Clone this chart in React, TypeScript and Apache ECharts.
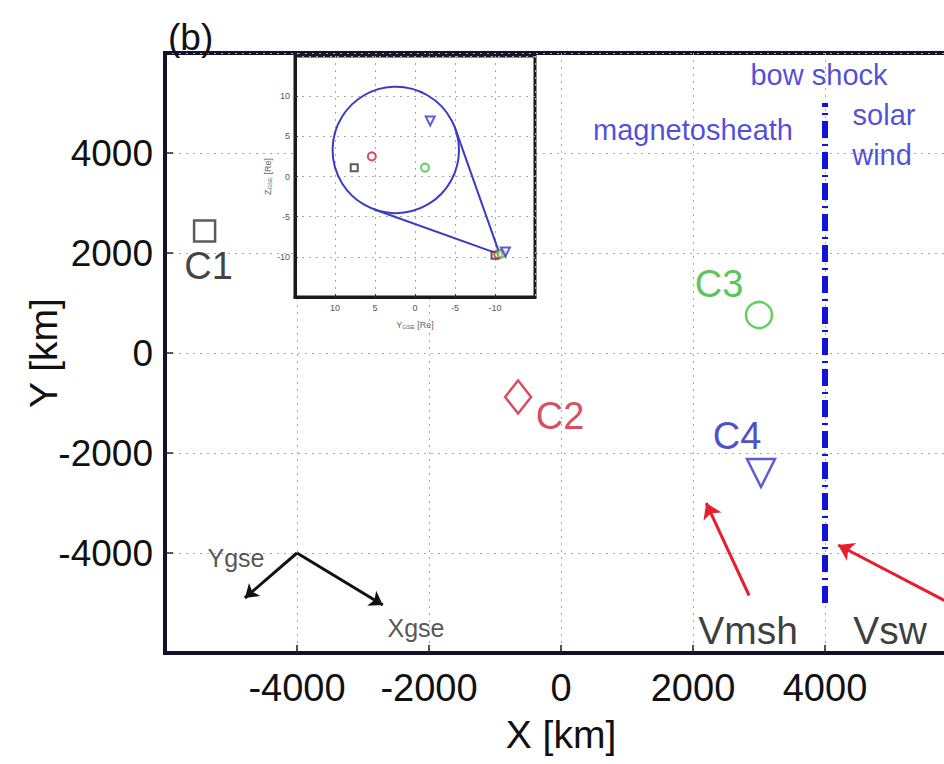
import React, { useEffect, useRef } from 'react';
import * as echarts from 'echarts';

// Spacecraft positions in the X-Y plane [km]
const CRAFT = ['C1', 'C2', 'C3', 'C4'];
const CRAFT_X = [-5400, -650, 3000, 3030];
const CRAFT_Y = [2440, -880, 760, -2400];

// Bow shock location
const BOW_SHOCK_X = 4000;
const BOW_SHOCK_Y = [-5000, 5000];

// Flow velocity arrows (tail -> head)
const FLOWS = ['Vmsh', 'Vsw'];
const FLOW_TAIL_X = [2850, 6000];
const FLOW_TAIL_Y = [-4850, -5080];
const FLOW_HEAD_X = [2200, 4200];
const FLOW_HEAD_Y = [-3000, -3840];

// GSE direction arrows drawn from a common origin
const GSE_AXES = ['Ygse', 'Xgse'];
const GSE_ORIGIN = [-4000, -4000];
const GSE_TIP_X = [-4790, -2700];
const GSE_TIP_Y = [-4900, -5040];

// Text annotations placed in data coordinates
const NOTES = ['bow shock', 'magnetosheath', 'solar', 'wind', 'Vmsh', 'Vsw', 'Ygse', 'Xgse'];
const NOTE_X = [3909, 2000, 4894, 4864, 2833, 4985, -4924, -2197];
const NOTE_Y = [5560, 4460, 4760, 3960, -5540, -5540, -4100, -5500];

// Inset: spacecraft in the GSE Y-Z plane [Re]
const INSET_Y = [7.6, 5.4, -1.25, -1.9];
const INSET_Z = [1.1, 2.5, 1.1, 6.9];
const INSET_FAR_Y = [-10.0, -10.4, -10.8, -11.3];
const INSET_FAR_Z = [-9.8, -9.7, -9.6, -9.4];
// Teardrop outline: circle (center, radius) joined to an apex by tangents
const LOOP_CENTER = [2.4, 3.3];
const LOOP_RADIUS = 7.9;
const LOOP_APEX = [-10.6, -9.7];

const FONT = '"Liberation Sans", Arial, sans-serif';
const CRAFT_COLOR = ['#333333', '#cc2238', '#3cc43c', '#3434c8'];
const CRAFT_LABEL_COLOR = ['#111111', '#cc1f35', '#2fb52f', '#2020c0'];
const CRAFT_SYMBOL = ['rect', 'diamond', 'circle', 'triangle'];
const CRAFT_SIZE: any[] = [21, [26, 33], 26, 28];
const CRAFT_ROTATE = [0, 0, 0, 180];
const CRAFT_LABEL_OFFSET = [[4, 35], [42, 19], [-40, -31], [-24, -37]];
const INSET_SYMBOL_SIZE = [7, 8, 8, 9];

const NOTE_STYLE = [
  { color: '#1f1fd0', fontSize: 29 },
  { color: '#1f1fd0', fontSize: 29 },
  { color: '#1f1fd0', fontSize: 29 },
  { color: '#1f1fd0', fontSize: 29 },
  { color: '#0a0a0a', fontSize: 39 },
  { color: '#0a0a0a', fontSize: 39 },
  { color: '#2a2a2a', fontSize: 25 },
  { color: '#2a2a2a', fontSize: 25 },
];

const plain = (v: number) => String(v);

export default function App() {
  const ref = useRef<HTMLDivElement>(null);

  useEffect(() => {
    if (!ref.current) return;
    const chart = echarts.init(ref.current, undefined, { renderer: 'svg' });

    const gridDots = { show: true, lineStyle: { color: '#a8a8a8', width: 1, type: [2, 5] as any } };

    const craftSeries = CRAFT.map((name, i) => ({
      type: 'scatter',
      name,
      xAxisIndex: 0,
      yAxisIndex: 0,
      symbol: CRAFT_SYMBOL[i],
      symbolSize: CRAFT_SIZE[i],
      symbolRotate: CRAFT_ROTATE[i],
      itemStyle: { color: 'rgba(255,255,255,0)', borderColor: CRAFT_COLOR[i], borderWidth: 2.5 },
      label: {
        show: true,
        position: 'inside',
        offset: CRAFT_LABEL_OFFSET[i],
        formatter: name,
        color: CRAFT_LABEL_COLOR[i],
        fontSize: 38,
        fontFamily: FONT,
      },
      z: 4,
      data: [[CRAFT_X[i], CRAFT_Y[i]]],
    }));

    const insetSeries = CRAFT.map((name, i) => ({
      type: 'scatter',
      name: name + ' inset',
      xAxisIndex: 1,
      yAxisIndex: 1,
      symbol: CRAFT_SYMBOL[i] === 'diamond' ? 'circle' : CRAFT_SYMBOL[i],
      symbolSize: INSET_SYMBOL_SIZE[i],
      symbolRotate: CRAFT_ROTATE[i],
      itemStyle: { color: 'rgba(255,255,255,0.6)', borderColor: CRAFT_COLOR[i], borderWidth: 2 },
      z: 12,
      data: [
        [INSET_Y[i], INSET_Z[i]],
        [INSET_FAR_Y[i], INSET_FAR_Z[i]],
      ],
    }));

    const loopSeries = {
      type: 'custom',
      xAxisIndex: 1,
      yAxisIndex: 1,
      z: 11,
      clip: false,
      encode: { x: 0, y: 1 },
      data: [[LOOP_CENTER[0], LOOP_CENTER[1], LOOP_RADIUS, LOOP_APEX[0], LOOP_APEX[1]]],
      renderItem: (params: any, api: any) => {
        const c = api.coord([api.value(0), api.value(1)]);
        const r = Math.abs(api.size([api.value(2), 0])[0]);
        const a = api.coord([api.value(3), api.value(4)]);
        const dx = a[0] - c[0];
        const dy = a[1] - c[1];
        const d = Math.sqrt(dx * dx + dy * dy);
        const base = Math.atan2(dy, dx);
        const half = Math.acos(r / d);
        const t1 = [c[0] + r * Math.cos(base + half), c[1] + r * Math.sin(base + half)];
        const t2 = [c[0] + r * Math.cos(base - half), c[1] + r * Math.sin(base - half)];
        const stroke = { stroke: '#3b3bc4', lineWidth: 2, fill: 'none' };
        return {
          type: 'group',
          children: [
            { type: 'circle', shape: { cx: c[0], cy: c[1], r }, style: stroke },
            { type: 'line', shape: { x1: t1[0], y1: t1[1], x2: a[0], y2: a[1] }, style: stroke },
            { type: 'line', shape: { x1: t2[0], y1: t2[1], x2: a[0], y2: a[1] }, style: stroke },
          ],
        };
      },
    };

    const notesSeries = {
      type: 'scatter',
      xAxisIndex: 0,
      yAxisIndex: 0,
      symbolSize: 1,
      itemStyle: { color: 'rgba(0,0,0,0)' },
      z: 5,
      silent: true,
      data: NOTES.map((text, i) => ({
        value: [NOTE_X[i], NOTE_Y[i]],
        label: {
          show: true,
          position: 'inside',
          formatter: text,
          fontFamily: FONT,
          ...NOTE_STYLE[i],
        },
      })),
    };

    const option: any = {
      animation: false,
      backgroundColor: '#ffffff',
      title: {
        text: '(b)',
        left: 168,
        top: 19,
        padding: 0,
        textStyle: { fontFamily: FONT, fontSize: 37, fontWeight: 'normal', color: '#111' },
      },
      grid: [
        {
          left: 165,
          right: -13,
          top: 53,
          height: 600,
          outerBoundsMode: 'none',
          containLabel: false,
          show: true,
          borderColor: '#12122e',
          borderWidth: 4,
          backgroundColor: '#ffffff',
          z: 0,
        },
        {
          left: 295,
          top: 56,
          width: 240,
          height: 241,
          outerBoundsMode: 'none',
          containLabel: false,
          show: true,
          borderColor: '#1a1a1a',
          borderWidth: 3,
          backgroundColor: '#ffffff',
          z: 8,
        },
      ],
      xAxis: [
        {
          type: 'value',
          gridIndex: 0,
          min: -6000,
          max: 6000,
          interval: 2000,
          name: 'X [km]',
          nameLocation: 'middle',
          nameGap: 62,
          nameMoveOverlap: false,
          nameTextStyle: { fontFamily: FONT, fontSize: 39, color: '#111' },
          axisLine: { show: true, onZero: false, lineStyle: { color: '#12122e', width: 4 } },
          axisTick: { show: true, inside: true, length: 8, lineStyle: { color: '#222', width: 1.5 } },
          axisLabel: {
            formatter: plain,
            showMinLabel: false,
            showMaxLabel: false,
            margin: 16,
            fontFamily: FONT,
            fontSize: 38,
            color: '#111',
          },
          splitLine: gridDots,
        },
        {
          type: 'value',
          gridIndex: 1,
          min: -15,
          max: 15,
          interval: 5,
          inverse: true,
          name: '{a|Y}{s|GSE}{a| [Re]}',
          nameLocation: 'middle',
          nameGap: 22,
          nameMoveOverlap: false,
          nameTextStyle: {
            rich: {
              a: { fontFamily: FONT, fontSize: 9, color: '#666' },
              s: { fontFamily: FONT, fontSize: 6, color: '#666', padding: [5, 0, 0, 0] },
            },
          },
          axisLine: { show: true, onZero: false, lineStyle: { color: '#1a1a1a', width: 3 } },
          axisTick: { show: true, inside: true, length: 3, lineStyle: { color: '#333' } },
          axisLabel: { formatter: plain, showMinLabel: false, showMaxLabel: false, margin: 6, fontFamily: FONT, fontSize: 9, color: '#555' },
          splitLine: gridDots,
          z: 9,
        },
      ],
      yAxis: [
        {
          type: 'value',
          gridIndex: 0,
          min: -6000,
          max: 6000,
          interval: 2000,
          name: 'Y [km]',
          nameLocation: 'middle',
          nameGap: 102,
          nameMoveOverlap: false,
          nameTextStyle: { fontFamily: FONT, fontSize: 39, color: '#111' },
          axisLine: { show: true, onZero: false, lineStyle: { color: '#12122e', width: 4 } },
          axisTick: { show: true, inside: true, length: 8, lineStyle: { color: '#222', width: 1.5 } },
          axisLabel: {
            formatter: plain,
            showMinLabel: false,
            showMaxLabel: false,
            margin: 12,
            fontFamily: FONT,
            fontSize: 37,
            color: '#111',
          },
          splitLine: gridDots,
        },
        {
          type: 'value',
          gridIndex: 1,
          min: -15,
          max: 15,
          interval: 5,
          name: '{a|Z}{s|GSE}{a| [Re]}',
          nameLocation: 'middle',
          nameGap: 22,
          nameMoveOverlap: false,
          nameTextStyle: {
            rich: {
              a: { fontFamily: FONT, fontSize: 9, color: '#666' },
              s: { fontFamily: FONT, fontSize: 6, color: '#666', padding: [5, 0, 0, 0] },
            },
          },
          axisLine: { show: true, onZero: false, lineStyle: { color: '#1a1a1a', width: 3 } },
          axisTick: { show: true, inside: true, length: 3, lineStyle: { color: '#333' } },
          axisLabel: { formatter: plain, showMinLabel: false, showMaxLabel: false, margin: 5, fontFamily: FONT, fontSize: 9, color: '#555' },
          splitLine: gridDots,
          z: 9,
        },
      ],
      series: [
        {
          type: 'line',
          name: 'bow shock',
          xAxisIndex: 0,
          yAxisIndex: 0,
          symbol: 'none',
          z: 3,
          lineStyle: { color: '#1212d8', width: 6, type: [17, 6, 2, 6] },
          data: BOW_SHOCK_Y.map((y) => [BOW_SHOCK_X, y]),
        },
        {
          type: 'lines',
          name: 'flow',
          coordinateSystem: 'cartesian2d',
          xAxisIndex: 0,
          yAxisIndex: 0,
          symbol: ['none', 'arrow'],
          symbolSize: 15,
          z: 3,
          lineStyle: { color: '#e61e2d', width: 3, opacity: 1 },
          data: FLOWS.map((n, i) => ({
            name: n,
            coords: [
              [FLOW_TAIL_X[i], FLOW_TAIL_Y[i]],
              [FLOW_HEAD_X[i], FLOW_HEAD_Y[i]],
            ],
          })),
        },
        {
          type: 'lines',
          name: 'gse',
          coordinateSystem: 'cartesian2d',
          xAxisIndex: 0,
          yAxisIndex: 0,
          symbol: ['none', 'arrow'],
          symbolSize: 13,
          z: 3,
          lineStyle: { color: '#111111', width: 3, opacity: 1 },
          data: GSE_AXES.map((n, i) => ({
            name: n,
            coords: [GSE_ORIGIN, [GSE_TIP_X[i], GSE_TIP_Y[i]]],
          })),
        },
        notesSeries,
        ...craftSeries,
        loopSeries,
        ...insetSeries,
      ],
    };

    chart.setOption(option);
    return () => chart.dispose();
  }, []);

  return (
    <div
      ref={ref}
      style={{ position: 'fixed', left: 0, top: 0, width: 944, height: 764, background: '#fff' }}
    />
  );
}
